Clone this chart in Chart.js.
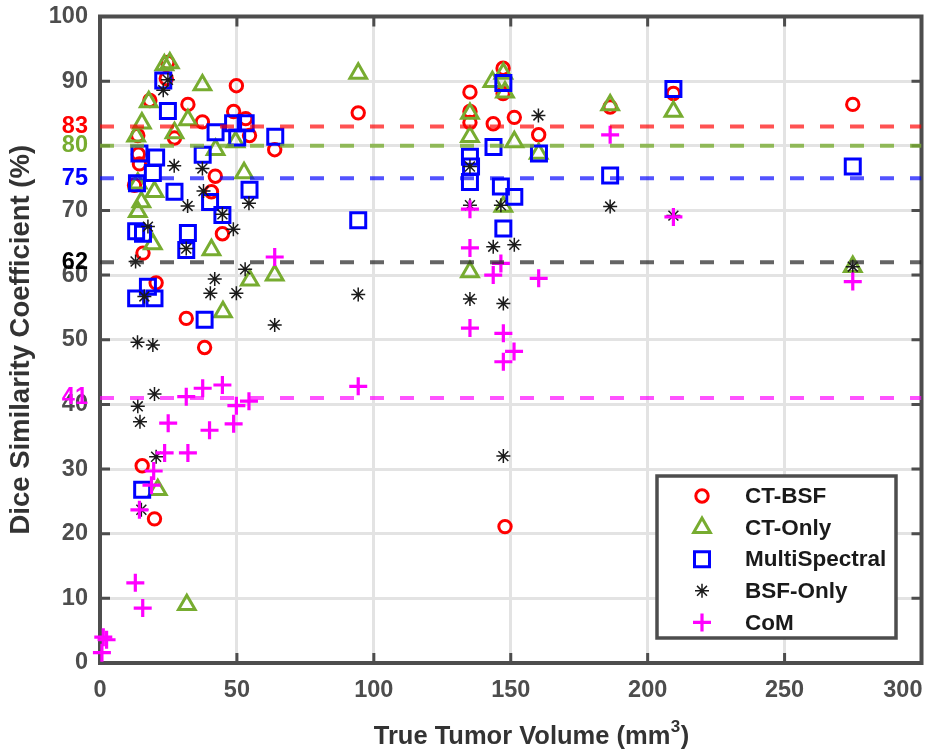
<!DOCTYPE html>
<html>
<head>
<meta charset="utf-8">
<title>Dice Similarity Coefficient vs Tumor Volume</title>
<script src="https://cdn.jsdelivr.net/npm/chart.js@4.4.1/dist/chart.umd.min.js"></script>
<style>
  html, body { margin: 0; padding: 0; background: #fff; }
  #wrap { width: 951px; height: 750px; }
</style>
</head>
<body>
<div id="wrap"><canvas id="dsc" width="951" height="750"></canvas></div>
<script>
// True tumor volume (mm^3) and Dice score (%) per method
const ctBsfVol = [24.7, 24.2, 49.8, 18.2, 32.1, 48.8, 53.2, 37.4, 13.8, 27.2, 54.6, 63.8, 14.0, 14.4, 42.1, 12.6, 40.7, 44.7, 15.7, 20.5, 31.5, 38.2, 15.4, 19.9,
                  94.3, 135.1, 135.1, 135.1, 143.6, 147.2, 147.2, 151.3, 160.2, 147.9, 186.3, 209.4, 274.9];
const ctBsfDsc = [92.9, 90.4, 89.3, 87.0, 86.4, 85.3, 84.2, 83.7, 81.6, 81.2, 81.6, 79.4, 78.7, 77.2, 75.3, 73.9, 72.9, 66.4, 63.4, 58.8, 53.3, 48.8, 30.5, 22.3,
                  85.1, 88.3, 85.3, 83.6, 83.4, 92.0, 88.1, 84.4, 81.7, 21.1, 86.0, 88.1, 86.4];

const ctOnlyVol = [23.5, 25.5, 37.4, 17.8, 32.1, 15.3, 27.2, 13.2, 42.2, 49.5, 52.6, 19.9, 15.1, 13.8, 13.8, 19.3, 40.7, 54.7, 63.8, 44.9, 31.7, 21.1,
                   94.3, 143.3, 147.3, 147.9, 135.1, 135.1, 151.3, 160.2, 135.1, 147.3, 186.3, 209.4, 274.9];
const ctOnlyDsc = [92.5, 92.8, 89.4, 86.8, 84.0, 83.5, 82.0, 81.5, 79.4, 80.6, 75.8, 72.9, 71.3, 69.8, 74.2, 64.8, 63.9, 59.2, 60.0, 54.3, 9.0, 26.8,
                   91.2, 89.9, 91.2, 88.3, 85.0, 81.4, 80.6, 78.8, 60.5, 70.6, 86.3, 85.3, 61.3];

const multiVol = [23.1, 24.8, 42.2, 48.6, 53.2, 50.1, 64.0, 14.4, 20.5, 19.3, 37.5, 13.5, 27.2, 54.6, 40.2, 44.7, 13.2, 15.7, 32.1, 31.5, 17.5, 13.2, 19.9, 38.2, 15.4,
                  147.3, 135.1, 135.5, 135.1, 143.7, 146.4, 151.3, 147.3, 160.3, 94.3, 209.4, 186.3, 274.9];
const multiDsc = [90.1, 85.4, 82.1, 83.5, 83.5, 81.3, 81.4, 78.8, 78.2, 75.8, 78.6, 74.2, 72.9, 73.2, 71.3, 69.3, 66.8, 66.4, 66.5, 63.9, 58.2, 56.4, 56.4, 53.1, 26.8,
                  89.7, 78.3, 76.8, 74.4, 79.8, 73.7, 72.1, 67.2, 78.8, 68.5, 88.8, 75.4, 76.8];

const bsfOnlyVol = [24.8, 23.1, 27.1, 37.4, 37.8, 32.0, 54.4, 44.7, 48.7, 17.5, 31.5, 13.0, 16.2, 41.9, 40.3, 49.8, 53.0, 63.8, 13.7, 19.3, 19.9, 13.8, 14.6, 20.5, 15.1,
                    135.1, 135.1, 146.4, 143.6, 151.3, 160.1, 94.3, 135.1, 147.3, 147.3, 186.3, 274.9, 209.4];
const bsfOnlyDsc = [90.2, 88.6, 76.9, 76.5, 73.0, 70.7, 71.1, 69.4, 67.1, 67.5, 64.1, 62.1, 56.7, 59.4, 57.2, 57.2, 60.9, 52.3, 49.6, 49.2, 41.6, 39.7, 37.3, 31.9, 23.7,
                    76.8, 70.8, 70.8, 64.4, 64.7, 84.7, 57.0, 56.3, 55.6, 32.0, 70.6, 61.3, 69.2];

const comVol = [63.8, 31.5, 37.5, 44.7, 49.8, 54.4, 24.9, 40.0, 48.8, 23.6, 32.1, 19.6, 18.8, 14.4, 12.9, 15.6, 1.2, 2.4, 0.7,
                135.1, 135.1, 146.4, 143.6, 160.2, 135.1, 147.3, 151.2, 147.3, 94.3, 186.3, 209.4, 274.9];
const comDsc = [62.8, 41.2, 42.5, 43.0, 39.8, 40.5, 37.1, 36.0, 37.0, 32.5, 32.5, 29.7, 27.5, 23.7, 12.4, 8.5, 4.0, 3.6, 1.6,
                70.2, 64.2, 61.8, 60.0, 59.5, 51.8, 51.0, 48.2, 46.6, 42.8, 81.7, 69.0, 59.0];

// mean DSC of each method, shown as dashed lines and coloured ticks
const meanLevels = [83, 80, 75, 62, 41];
const meanLineColors = ['rgba(255,0,0,0.68)', 'rgba(119,172,48,0.78)', 'rgba(0,0,255,0.68)', 'rgba(40,40,40,0.72)', 'rgba(255,0,255,0.68)'];
const meanLabelColors = ['#ff0000', '#77ac30', '#0000ff', '#000000', '#ff00ff'];

const yGridTicks = [0, 10, 20, 30, 40, 50, 60, 70, 80, 90, 100];
const xGridTicks = [0, 50, 100, 150, 200, 250, 300];

const FONT = "'Liberation Sans', Arial, Helvetica, sans-serif";
const AXIS_GREY = '#4d4d4d';
const TITLE_GREY = '#333333';
const TICK_FONT = { family: FONT, size: 23.5, weight: 'bold', lineHeight: 0.35 };

const toPoints = (xs, ys) => xs.map((x, i) => ({ x: x, y: ys[i] }));

const series = [
  { label: 'CT-BSF', vol: ctBsfVol, dsc: ctBsfDsc, style: 'circle', radius: 6.2, color: '#ff0000', width: 3 },
  { label: 'CT-Only', vol: ctOnlyVol, dsc: ctOnlyDsc, style: 'triangle', radius: 9.6, color: '#77ac30', width: 3 },
  { label: 'MultiSpectral', vol: multiVol, dsc: multiDsc, style: 'rect', radius: 10.6, color: '#0000ff', width: 3 },
  { label: 'BSF-Only', vol: bsfOnlyVol, dsc: bsfOnlyDsc, style: 'star', radius: 7, color: '#1a1a1a', width: 1.5 },
  { label: 'CoM', vol: comVol, dsc: comDsc, style: 'cross', radius: 9, color: '#ff00ff', width: 3.2 }
];

const datasets = [];

// later methods sit on top of earlier ones
series.forEach((s, i) => {
  datasets.push({
    type: 'scatter',
    label: s.label,
    data: toPoints(s.vol, s.dsc),
    pointStyle: s.style,
    pointRadius: s.radius,
    pointBorderWidth: s.width,
    borderColor: s.color,
    pointBorderColor: s.color,
    backgroundColor: 'rgba(0,0,0,0)',
    pointBackgroundColor: 'rgba(0,0,0,0)',
    clip: false,
    order: 10 - i
  });
});

meanLevels.forEach((v, i) => {
  datasets.push({
    type: 'line',
    label: 'mean ' + v,
    data: [{ x: 0, y: v }, { x: 300, y: v }],
    borderColor: meanLineColors[i],
    borderWidth: 4,
    borderDash: [14, 16],
    pointRadius: 0,
    fill: false,
    order: 0
  });
});

const yTickValues = yGridTicks.concat(meanLevels).filter((v, i, a) => a.indexOf(v) === i).sort((a, b) => a - b);

function tickColor(v) {
  const k = meanLevels.indexOf(v);
  return k >= 0 ? meanLabelColors[k] : AXIS_GREY;
}

// box around the axes plus inward tick marks on all four sides
const axesBox = {
  id: 'axesBox',
  beforeDatasetsDraw(chart) {
    const { ctx, chartArea: a, scales } = chart;
    ctx.save();
    ctx.strokeStyle = AXIS_GREY;
    ctx.lineWidth = 3;
    ctx.beginPath();
    yGridTicks.forEach(v => {
      const y = scales.y.getPixelForValue(v);
      ctx.moveTo(a.left, y); ctx.lineTo(a.left + 10, y);
      ctx.moveTo(a.right, y); ctx.lineTo(a.right - 10, y);
    });
    xGridTicks.forEach(v => {
      const x = scales.x.getPixelForValue(v);
      ctx.moveTo(x, a.bottom); ctx.lineTo(x, a.bottom - 10);
      ctx.moveTo(x, a.top); ctx.lineTo(x, a.top + 10);
    });
    ctx.stroke();
    ctx.lineWidth = 4;
    ctx.strokeRect(a.left, a.top, a.right - a.left, a.bottom - a.top);

    // x tick labels, the last one kept inside the right edge
    ctx.font = 'bold 23.5px ' + FONT;
    ctx.fillStyle = AXIS_GREY;
    ctx.textBaseline = 'middle';
    xGridTicks.forEach((v, i) => {
      const last = i === xGridTicks.length - 1;
      const x = scales.x.getPixelForValue(v);
      ctx.textAlign = last ? 'right' : 'center';
      ctx.fillText(String(v), last ? x + 1 : x, a.bottom + 28);
    });

    // x axis title with a raised exponent
    ctx.font = 'bold 25.5px ' + FONT;
    ctx.fillStyle = TITLE_GREY;
    ctx.textAlign = 'left';
    const main = 'True Tumor Volume (mm';
    ctx.font = 'bold 25.5px ' + FONT;
    const wMain = ctx.measureText(main).width;
    ctx.font = 'bold 17px ' + FONT;
    const wSup = ctx.measureText('3').width;
    ctx.font = 'bold 25.5px ' + FONT;
    const wEnd = ctx.measureText(')').width;
    const x0 = 531 - (wMain + wSup + wEnd) / 2;
    const yT = 737;
    ctx.fillText(main, x0, yT);
    ctx.font = 'bold 17px ' + FONT;
    ctx.fillText('3', x0 + wMain + 0.5, yT - 10);
    ctx.font = 'bold 25.5px ' + FONT;
    ctx.fillText(')', x0 + wMain + wSup + 1, yT);
    ctx.restore();
  }
};

function drawMarker(ctx, s, x, y) {
  const r = s.radius;
  ctx.save();
  ctx.strokeStyle = s.color;
  ctx.lineWidth = s.width;
  ctx.beginPath();
  if (s.style === 'circle') {
    ctx.arc(x, y, r, 0, Math.PI * 2);
  } else if (s.style === 'triangle') {
    for (let k = 0; k < 3; k++) {
      const ang = k * 2 * Math.PI / 3;
      const px = x + Math.sin(ang) * r, py = y - Math.cos(ang) * r;
      if (k === 0) ctx.moveTo(px, py); else ctx.lineTo(px, py);
    }
    ctx.closePath();
  } else if (s.style === 'rect') {
    const h = r * Math.SQRT1_2;
    ctx.rect(x - h, y - h, 2 * h, 2 * h);
  } else if (s.style === 'star') {
    const d = r * Math.SQRT1_2;
    ctx.moveTo(x - r, y); ctx.lineTo(x + r, y);
    ctx.moveTo(x, y - r); ctx.lineTo(x, y + r);
    ctx.moveTo(x - d, y - d); ctx.lineTo(x + d, y + d);
    ctx.moveTo(x - d, y + d); ctx.lineTo(x + d, y - d);
  } else {
    ctx.moveTo(x - r, y); ctx.lineTo(x + r, y);
    ctx.moveTo(x, y - r); ctx.lineTo(x, y + r);
  }
  ctx.stroke();
  ctx.restore();
}

// boxed legend in the lower right corner of the plot
const boxLegend = {
  id: 'boxLegend',
  afterDraw(chart) {
    const { ctx } = chart;
    const left = 657, top = 476, w = 239, h = 162;
    ctx.save();
    ctx.fillStyle = '#ffffff';
    ctx.fillRect(left, top, w, h);
    ctx.strokeStyle = AXIS_GREY;
    ctx.lineWidth = 3.5;
    ctx.strokeRect(left, top, w, h);
    ctx.font = 'bold 22.5px ' + FONT;
    ctx.textBaseline = 'middle';
    ctx.fillStyle = '#1a1a1a';
    series.forEach((s, i) => {
      const y = top + 20 + i * 31.6;
      drawMarker(ctx, s, left + 45, y);
      ctx.fillText(s.label, left + 88, y + 1);
    });
    ctx.restore();
  }
};

new Chart(document.getElementById('dsc'), {
  data: { datasets: datasets },
  options: {
    responsive: false,
    animation: false,
    layout: { padding: { top: 16.5, right: 29.5, left: 0, bottom: 0 } },
    plugins: {
      legend: { display: false },
      tooltip: { enabled: false }
    },
    scales: {
      x: {
        type: 'linear',
        min: 0,
        max: 300,
        afterBuildTicks: s => { s.ticks = xGridTicks.map(v => ({ value: v })); },
        afterFit: s => { s.height = 87; },
        ticks: { display: false },
        grid: { color: '#e3e3e3', lineWidth: 3, drawTicks: false },
        border: { display: false },
        title: { display: false }
      },
      y: {
        type: 'linear',
        min: 0,
        max: 100,
        afterBuildTicks: s => { s.ticks = yTickValues.map(v => ({ value: v })); },
        afterFit: s => { s.width = 100; },
        ticks: {
          autoSkip: false,
          color: c => tickColor(c.tick.value),
          padding: 12,
          font: TICK_FONT
        },
        grid: {
          color: c => (c.tick && c.tick.value % 10 === 0) ? '#e3e3e3' : 'rgba(0,0,0,0)',
          lineWidth: 3,
          drawTicks: false
        },
        border: { display: false },
        title: {
          display: true,
          text: 'Dice Similarity Coefficient (%)',
          color: TITLE_GREY,
          font: { family: FONT, size: 27.5, weight: 'bold' },
          padding: { top: 5, bottom: 0 }
        }
      }
    }
  },
  plugins: [axesBox, boxLegend]
});
</script>
</body>
</html>
